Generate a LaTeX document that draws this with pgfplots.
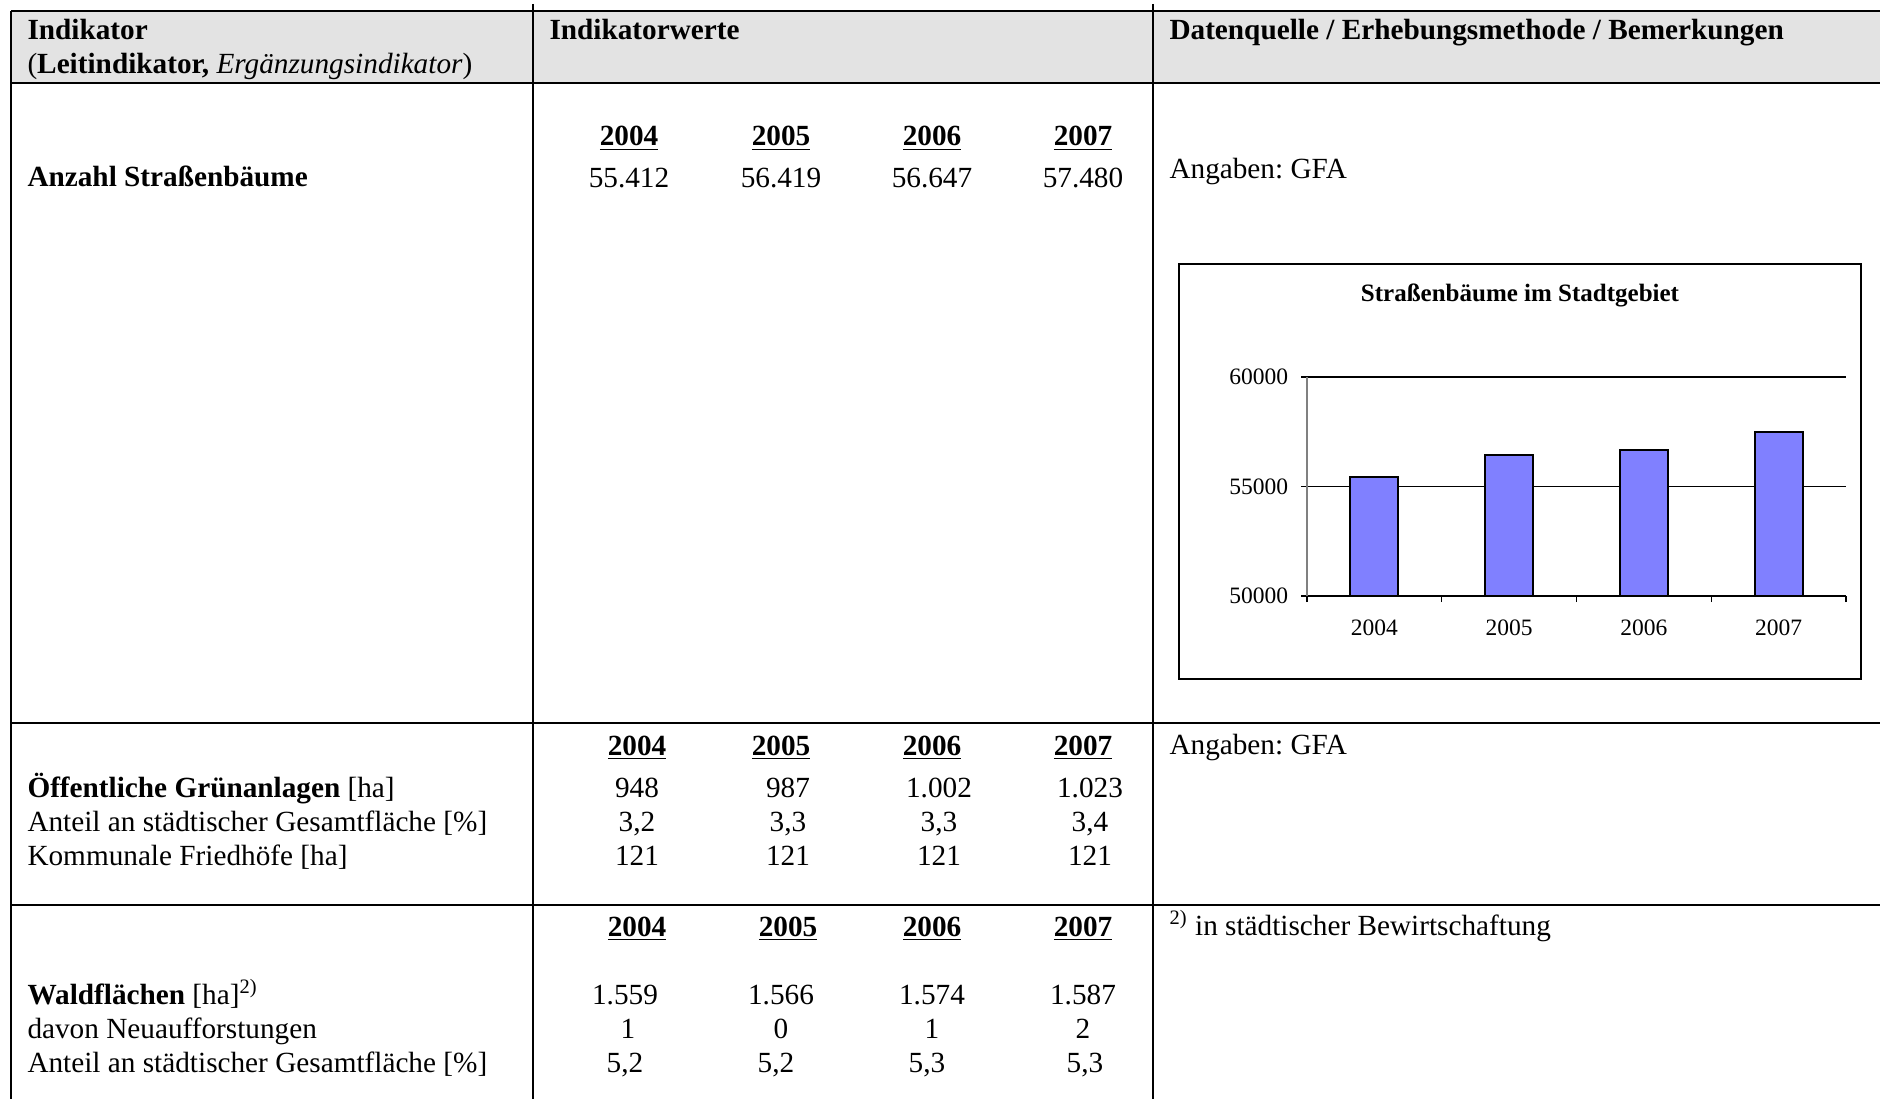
\documentclass[border=0pt]{standalone}
\usepackage{fontspec}
\setmainfont{Liberation Serif}
\usepackage{pgfplots}
\pgfplotsset{compat=1.18}
\definecolor{hdr}{RGB}{227,227,227}
\definecolor{barblue}{RGB}{128,128,255}
\newcommand\tf{\fontsize{11.7}{14}\selectfont}
\frenchspacing
\begin{document}
\begin{tikzpicture}[x=0.4pt,y=-0.4pt,
  t/.style={anchor=base west, inner sep=0pt, font=\tf},
  c/.style={anchor=base, inner sep=0pt, font=\tf}]
\useasboundingbox (0,0) rectangle (1880,1099);
% header background and grid
\fill[hdr] (11,11) rectangle (1880,83);
\draw[line width=0.5pt] (11,11) -- (1880,11);
\draw[line width=0.9pt] (11,83) -- (1880,83);
\draw[line width=0.9pt] (11,723) -- (1880,723);
\draw[line width=0.9pt] (11,905) -- (1880,905);
\draw[line width=0.9pt] (11,11) -- (11,1099);
\draw[line width=0.9pt] (533,4) -- (533,1099);
\draw[line width=0.9pt] (1153,4) -- (1153,1099);
% header text
\node[t] at (27,40) {\textbf{Indikator}};
\node[t] at (27,74) {(\textbf{Leitindikator,} \textit{Ergänzungsindikator})};
\node[t] at (549,40) {\textbf{Indikatorwerte}};
\node[t] at (1169,40) {\textbf{Datenquelle / Erhebungsmethode / Bemerkungen}};
% row 1
\node[t] at (27,187) {\textbf{Anzahl Straßenbäume}};
\foreach \x/\y in {629/2004,781/2005,932/2006,1083/2007}{\node[c] at (\x,146) {\underline{\textbf{\y}}};}
\node[c] at (629,188) {55.412};
\node[c] at (781,188) {56.419};
\node[c] at (932,188) {56.647};
\node[c] at (1083,188) {57.480};
\node[t] at (1169,179) {Angaben: GFA};
% row 2
\foreach \x/\y in {637/2004,781/2005,932/2006,1083/2007}{\node[c] at (\x,755) {\underline{\textbf{\y}}};}
\node[t] at (27,797) {\textbf{Öffentliche Grünanlagen} [ha]};
\node[t] at (27,831) {Anteil an städtischer Gesamtfläche [\%]};
\node[t] at (27,865) {Kommunale Friedhöfe [ha]};
\node[c] at (637,797) {948};
\node[c] at (788,797) {987};
\node[c] at (939,797) {1.002};
\node[c] at (1090,797) {1.023};
\node[c] at (637,831) {3,2};
\node[c] at (788,831) {3,3};
\node[c] at (939,831) {3,3};
\node[c] at (1090,831) {3,4};
\node[c] at (637,865) {121};
\node[c] at (788,865) {121};
\node[c] at (939,865) {121};
\node[c] at (1090,865) {121};
\node[t] at (1169,754) {Angaben: GFA};
% row 3
\foreach \x/\y in {637/2004,788/2005,932/2006,1083/2007}{\node[c] at (\x,936) {\underline{\textbf{\y}}};}
\node[t] at (27,1004) {\textbf{Waldflächen} [ha]\textsuperscript{2)}};
\node[t] at (27,1038) {davon Neuaufforstungen};
\node[t] at (27,1072) {Anteil an städtischer Gesamtfläche [\%]};
\node[c] at (625,1004) {1.559};
\node[c] at (781,1004) {1.566};
\node[c] at (932,1004) {1.574};
\node[c] at (1083,1004) {1.587};
\node[c] at (628,1038) {1};
\node[c] at (781,1038) {0};
\node[c] at (932,1038) {1};
\node[c] at (1083,1038) {2};
\node[c] at (625,1072) {5,2};
\node[c] at (776,1072) {5,2};
\node[c] at (927,1072) {5,3};
\node[c] at (1085,1072) {5,3};
\node[t] at (1169,935) {\textsuperscript{2)} in städtischer Bewirtschaftung};
% chart frame and title
\draw[line width=0.6pt] (1179,264) rectangle (1861,679);
\node[font=\bfseries\fontsize{10}{12}\selectfont, inner sep=0pt] at (1520,295) {Straßenbäume im Stadtgebiet};
\coordinate (axorig) at (1307,596);
\begin{axis}[at={(axorig)}, anchor=south west, scale only axis,
  width=215.6pt, height=87.6pt,
  xmin=-0.5, xmax=3.5, ymin=50000, ymax=60000,
  xtick={0,1,2,3}, xticklabels={2004,2005,2006,2007},
  ytick={50000,55000,60000},
  minor xtick={-0.5,0.5,1.5,2.5,3.5},
  minor ytick={50000,55000,60000},
  major tick length=0pt, minor tick length=2.4pt,
  tick align=outside,
  axis lines*=left,
  x axis line style={black, line width=0.5pt},
  y axis line style={gray, line width=0.5pt},
  every tick/.style={black, line width=0.5pt},
  ymajorgrids, major grid style={black, line width=0.45pt},
  scaled y ticks=false,
  /pgf/number format/assume math mode=true,
  /pgf/number format/set thousands separator={},
  ticklabel style={font=\fontsize{9.4}{11}\selectfont},
  yticklabel style={xshift=-4pt},
  xticklabel style={yshift=-6pt},
  ]
\addplot[ybar, bar width=19.2pt, fill=barblue, draw=black, line width=0.8pt]
  coordinates {(0,55412) (1,56419) (2,56647) (3,57480)};
\end{axis}
\end{tikzpicture}
\end{document}
